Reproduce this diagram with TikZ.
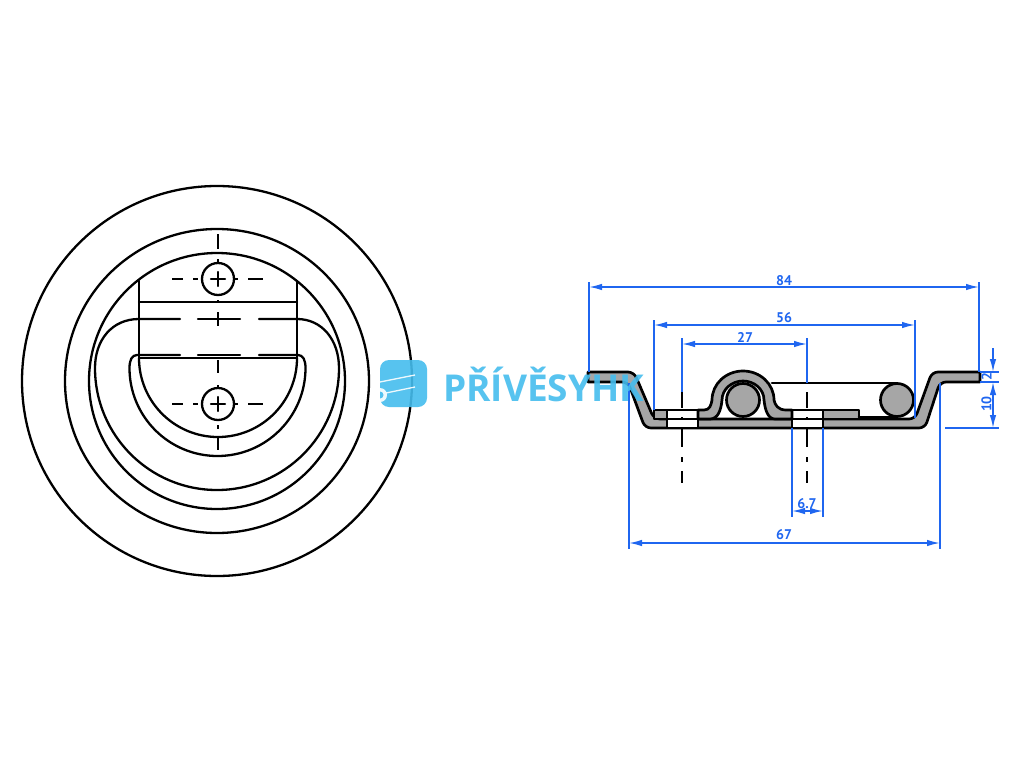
\documentclass[tikz,border=0pt]{standalone}
\usepackage{fontspec}
\setmainfont{PT Sans}
\newfontfamily\logofont{Open Sans}
\usetikzlibrary{arrows.meta}
\definecolor{dimblue}{HTML}{1F66F0}
\definecolor{logoblue}{HTML}{45BDEE}
\definecolor{steelgrey}{HTML}{A6A6A6}
\tikzset{
  obj/.style={line width=2.3pt,draw=black,line cap=round,line join=round},
  axisline/.style={line width=2.3pt,draw=black},
  dimline/.style={line width=1.5pt,draw=dimblue},
  dimarrow/.style={dimline,{Latex[length=13pt,width=6.5pt]}-{Latex[length=13pt,width=6.5pt]}},
  dimtip/.style={dimline,-{Latex[length=13pt,width=6.5pt]}},
  dimlabel/.style={text=dimblue,font=\bfseries\fontsize{14}{14}\selectfont,inner sep=0pt},
  steel/.style={obj,line width=2.7pt,fill=steelgrey}
}
\begin{document}
\begin{tikzpicture}[x=1pt,y=-1pt]
\useasboundingbox[fill=white] (0,0) rectangle (1024,768);
% ---------- front view
\draw[obj] (217,381) circle[radius=195];
\draw[obj] (217,381) circle[radius=152];
\draw[obj] (217,381) circle[radius=128];
\draw[obj] (139,281) -- (139,358);
\draw[obj] (297,281) -- (297,358);
\draw[obj] (139,302) -- (297,302);
\draw[obj] (139,358) -- (297,358);
\draw[obj] (139,358) arc[start angle=180,end angle=0,radius=79];
% ring
\draw[obj] (180,319) -- (139,319) .. controls (112,319) and (95,340) .. (95,368)
  arc[start angle=180,end angle=0,radius=122]
  .. controls (339,340) and (322,319) .. (297,319) -- (259,319);
\draw[obj] (198,319) -- (240,319);
\draw[obj] (180,355) -- (137,355) .. controls (132,355) and (129.5,360) .. (129.5,368)
  arc[start angle=180,end angle=0,radius=88]
  .. controls (305.5,360) and (303,355) .. (298,355) -- (259,355);
\draw[obj] (198,355) -- (240,355);
% screws
\foreach \cy in {279,404}{
  \draw[obj] (218,\cy) circle[radius=16];
  \draw[obj] (211,\cy) -- (225,\cy);
  \draw[obj] (218,\cy-7) -- (218,\cy+7);
  \draw[axisline] (172,\cy) -- (183,\cy);
  \draw[axisline] (193,\cy) -- (198,\cy);
  \draw[axisline] (235,\cy) -- (238,\cy);
  \draw[axisline] (248,\cy) -- (263,\cy);
}
\foreach \ya/\yb in {234/249,259/263,300/302,312/326,360/373,385/389,425/429,438/450}{
  \draw[axisline] (218,\ya) -- (218,\yb);
}
% ---------- side view
\draw[steel] (588,372) [rounded corners=6pt] -- (634,372) -- (654,419) -- (915,419) -- (932,372) [sharp corners] -- (980,372) -- (980,382) [rounded corners=6pt] -- (940,382) -- (925,428) -- (645,428) -- (628,382) [sharp corners] -- (588,382) -- cycle;
\draw[steel] (654,410) rectangle (667,419);
\draw[steel] (823,410) rectangle (859,419);
\draw[obj,fill=white] (667,410) rectangle (698,428);
\draw[obj,fill=white] (792,410) rectangle (823,428);
\draw[obj] (667,419) -- (698,419);
\draw[obj] (792,419) -- (823,419);
\draw[steel] (698,410) -- (704,410) .. controls (710,410) and (711,405) .. (712,400)
  arc[start angle=180,end angle=360,x radius=31,y radius=29]
  .. controls (775,405) and (778,410) .. (786,410) -- (792,410) -- (792,419) -- (775,419)
  .. controls (768,419) and (765,410) .. (764,400)
  arc[start angle=360,end angle=180,x radius=21,y radius=19]
  .. controls (721,410) and (718,419) .. (710,419) -- (698,419) -- cycle;
\draw[steel] (743,400) circle[radius=16.5];
\draw[obj,line width=2.7pt] (772,383) -- (897,383);
\draw[obj,line width=2.7pt] (859,417) -- (897,417);
\draw[steel] (897,400) circle[radius=16.5];
% centre lines side view
\foreach \cx in {682,807}{
  \foreach \ya/\yb in {392/408,417/420,428/447,457/462,471/483}{
    \draw[axisline] (\cx,\ya) -- (\cx,\yb);
  }
}
% ---------- dimensions
\coordinate (d84a) at (589,287); \coordinate (d84b) at (979,287);
\draw[dimline] (589,282) -- (589,372); \draw[dimline] (979,282) -- (979,372);
\draw[dimarrow] (d84a) -- (d84b);
\node[dimlabel] (t84) at (784,281) {84};
\coordinate (d56a) at (654,325); \coordinate (d56b) at (915,325);
\draw[dimline] (654,320) -- (654,410); \draw[dimline] (915,320) -- (915,418);
\draw[dimarrow] (d56a) -- (d56b);
\node[dimlabel] (t56) at (784,318) {56};
\coordinate (d27a) at (682,344); \coordinate (d27b) at (807,344);
\draw[dimline] (682,338) -- (682,392); \draw[dimline] (807,338) -- (807,383);
\draw[dimarrow] (d27a) -- (d27b);
\node[dimlabel] (t27) at (745,337) {27};
\coordinate (d67a) at (629,543); \coordinate (d67b) at (940,543);
\draw[dimline] (629,383) -- (629,549); \draw[dimline] (940,383) -- (940,549);
\draw[dimarrow] (d67a) -- (d67b);
\node[dimlabel] (t67) at (784,535) {67};
\coordinate (d7a) at (792,511); \coordinate (d7b) at (823,511);
\draw[dimline] (792,428) -- (792,517); \draw[dimline] (823,428) -- (823,517);
\draw[dimarrow] (d7a) -- (d7b);
\node[dimlabel] (t7) at (807,504) {6.7};
\draw[dimline] (980,372) -- (999,372);
\draw[dimline] (980,382) -- (999,382);
\draw[dimline] (945,428) -- (999,428);
\coordinate (v0) at (993,348); \coordinate (v1) at (993,372);
\coordinate (v2) at (993,382); \coordinate (v3) at (993,428);
\draw[dimtip] (v0) -- (v1);
\draw[dimarrow] (v2) -- (v3);
\node[dimlabel,rotate=90] (t2) at (986.5,377) {2};
\node[dimlabel,rotate=90] (t10) at (986.5,404) {10};
% ---------- watermark
\begin{scope}[opacity=.9]
\fill[logoblue,rounded corners=9pt] (380,360) rectangle (427,407);
\draw[white,line width=1.3pt] (380,382) -- (415,375);
\draw[white,line width=1.3pt] (386,393) -- (415,387);
\begin{scope}
\clip (380,385) rectangle (390,405);
\fill[white] (380,395) circle[radius=7];
\fill[logoblue] (380,395) circle[radius=3.5];
\end{scope}
\node[text=logoblue,anchor=base west,inner sep=0pt,font=\logofont\bfseries\fontsize{37}{37}\selectfont] (logo) at (443,401) {PŘÍVĚSYHK};
\end{scope}
\end{tikzpicture}
\end{document}
